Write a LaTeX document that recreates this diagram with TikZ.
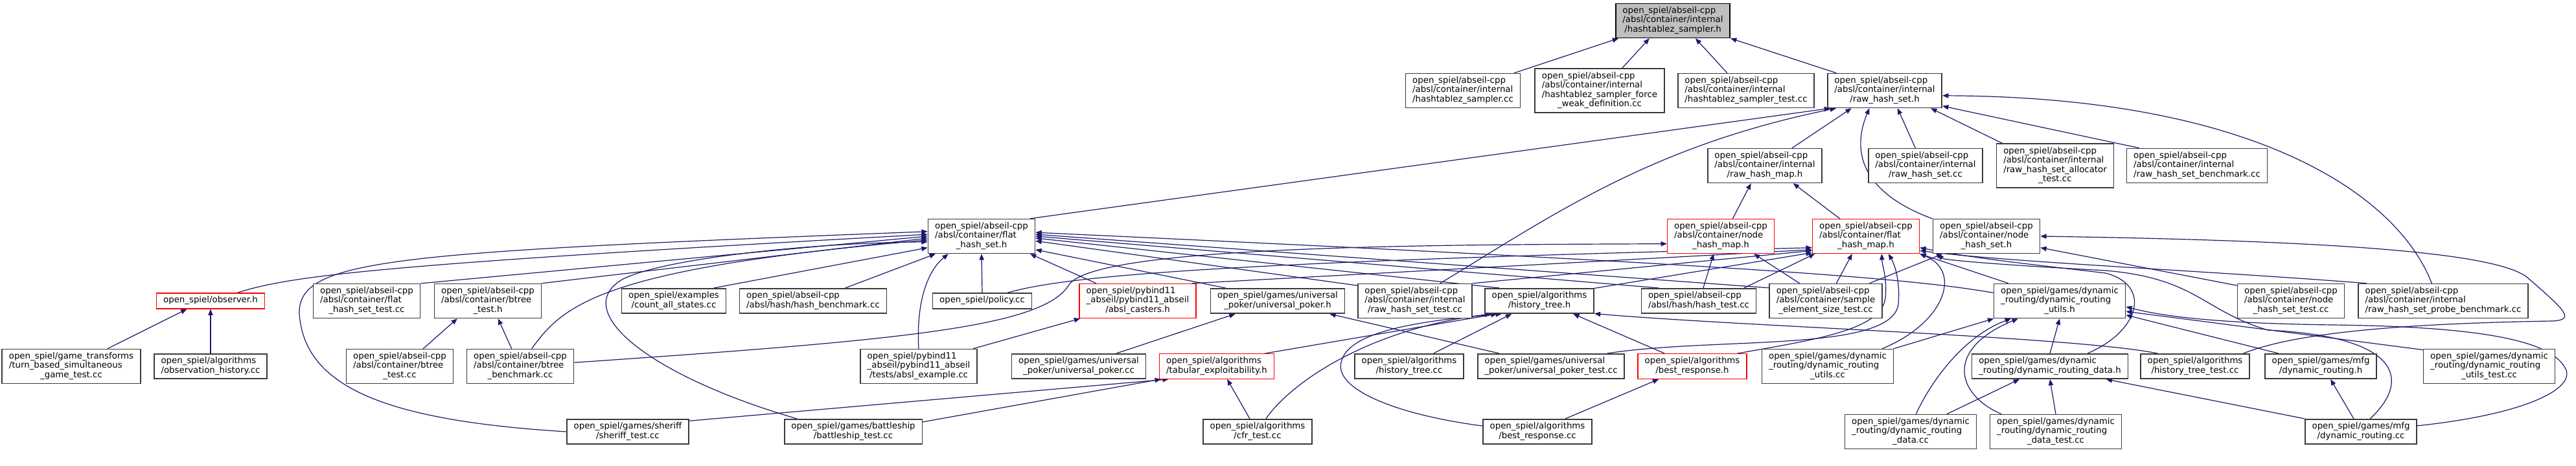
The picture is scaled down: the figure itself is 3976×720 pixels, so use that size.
\documentclass[tikz,border=0pt]{standalone}
\usepackage{fontspec}
\setmainfont{DejaVu Sans}
\usetikzlibrary{arrows.meta,backgrounds}
\definecolor{edgeblue}{HTML}{191970}
\definecolor{boxline}{HTML}{3A3A3A}
\definecolor{rootfill}{HTML}{BFBFBF}
% file label: left aligned lines, last line centred
\newcommand{\fn}[2]{\begin{tabular}{@{}l@{}}#1\\\multicolumn{1}{@{}c@{}}{#2}\end{tabular}}
\newcommand{\fa}[1]{\begin{tabular}{@{}c@{}}#1\end{tabular}}
\tikzset{
  file/.style={draw=boxline, line width=1.2pt, fill=white, inner xsep=8pt, inner ysep=3.5pt,
    font=\fontsize{10}{10.9}\selectfont},
  redfile/.style={file, draw=red, line width=1pt},
  rootfile/.style={file, draw=black, fill=rootfill},
  incl/.style={-{Triangle[length=7pt,width=5.5pt]}, draw=edgeblue, line width=0.9pt},
}
\begin{document}
\begin{tikzpicture}[x=0.75pt,y=-0.75pt]
\useasboundingbox (0,0) rectangle (3976,720);
% row 0 and 1
\node[rootfile] (hz) at (2582,32) {\fn{open\_spiel/abseil-cpp\\/absl/container/internal}{/hashtablez\_sampler.h}};
\node[file] (hzcc) at (2258,140) {\fn{open\_spiel/abseil-cpp\\/absl/container/internal}{/hashtablez\_sampler.cc}};
\node[file] (hzweak) at (2469,140) {\fn{open\_spiel/abseil-cpp\\/absl/container/internal\\/hashtablez\_sampler\_force}{\_weak\_definition.cc}};
\node[file] (hztest) at (2695,140) {\fn{open\_spiel/abseil-cpp\\/absl/container/internal}{/hashtablez\_sampler\_test.cc}};
\node[file] (rhs) at (2909,140) {\fn{open\_spiel/abseil-cpp\\/absl/container/internal}{/raw\_hash\_set.h}};
% row 2
\node[file] (rhm) at (2724,256) {\fn{open\_spiel/abseil-cpp\\/absl/container/internal}{/raw\_hash\_map.h}};
\node[file] (rhscc) at (2972,256) {\fn{open\_spiel/abseil-cpp\\/absl/container/internal}{/raw\_hash\_set.cc}};
\node[file] (rhsalloc) at (3172,256) {\fn{open\_spiel/abseil-cpp\\/absl/container/internal\\/raw\_hash\_set\_allocator}{\_test.cc}};
\node[file] (rhsbench) at (3391,256) {\fn{open\_spiel/abseil-cpp\\/absl/container/internal}{/raw\_hash\_set\_benchmark.cc}};
% row 3
\node[file] (fhs) at (1515,365) {\fn{open\_spiel/abseil-cpp\\/absl/container/flat}{\_hash\_set.h}};
\node[redfile] (nhm) at (2656,365) {\fn{open\_spiel/abseil-cpp\\/absl/container/node}{\_hash\_map.h}};
\node[redfile] (fhm) at (2880,365) {\fn{open\_spiel/abseil-cpp\\/absl/container/flat}{\_hash\_map.h}};
\node[file] (nhs) at (3066,365) {\fn{open\_spiel/abseil-cpp\\/absl/container/node}{\_hash\_set.h}};
% row 4
\node[redfile] (obs) at (325,465) {\fa{open\_spiel/observer.h}};
\node[file] (fhstest) at (566,465) {\fn{open\_spiel/abseil-cpp\\/absl/container/flat}{\_hash\_set\_test.cc}};
\node[file] (bth) at (753,465) {\fn{open\_spiel/abseil-cpp\\/absl/container/btree}{\_test.h}};
\node[file] (cas) at (1040,465) {\fn{open\_spiel/examples}{/count\_all\_states.cc}};
\node[file] (hbench) at (1255,465) {\fn{open\_spiel/abseil-cpp}{/absl/hash/hash\_benchmark.cc}};
\node[file] (pol) at (1516,465) {\fa{open\_spiel/policy.cc}};
\node[redfile] (cast) at (1756,465) {\fn{open\_spiel/pybind11\\\_abseil/pybind11\_abseil}{/absl\_casters.h}};
\node[file] (uph) at (1972,465) {\fn{open\_spiel/games/universal}{\_poker/universal\_poker.h}};
\node[file] (rhstest) at (2184,465) {\fn{open\_spiel/abseil-cpp\\/absl/container/internal}{/raw\_hash\_set\_test.cc}};
\node[file] (hth) at (2376,465) {\fn{open\_spiel/algorithms}{/history\_tree.h}};
\node[file] (htest) at (2622,465) {\fn{open\_spiel/abseil-cpp}{/absl/hash/hash\_test.cc}};
\node[file] (sest) at (2818,465) {\fn{open\_spiel/abseil-cpp\\/absl/container/sample}{\_element\_size\_test.cc}};
\node[file] (dru) at (3179,465) {\fn{open\_spiel/games/dynamic\\\_routing/dynamic\_routing}{\_utils.h}};
\node[file] (nhstest) at (3536,465) {\fn{open\_spiel/abseil-cpp\\/absl/container/node}{\_hash\_set\_test.cc}};
\node[file] (probe) at (3771,465) {\fn{open\_spiel/abseil-cpp\\/absl/container/internal}{/raw\_hash\_set\_probe\_benchmark.cc}};
% row 5
\node[file] (tbs) at (110,566) {\fn{open\_spiel/game\_transforms\\/turn\_based\_simultaneous}{\_game\_test.cc}};
\node[file] (obsh) at (325,566) {\fn{open\_spiel/algorithms}{/observation\_history.cc}};
\node[file] (btcc) at (617,566) {\fn{open\_spiel/abseil-cpp\\/absl/container/btree}{\_test.cc}};
\node[file] (btbench) at (803,566) {\fn{open\_spiel/abseil-cpp\\/absl/container/btree}{\_benchmark.cc}};
\node[file] (absex) at (1418,566) {\fn{open\_spiel/pybind11\\\_abseil/pybind11\_abseil}{/tests/absl\_example.cc}};
\node[file] (upcc) at (1665,566) {\fn{open\_spiel/games/universal}{\_poker/universal\_poker.cc}};
\node[redfile] (tex) at (1878,566) {\fn{open\_spiel/algorithms}{/tabular\_exploitability.h}};
\node[file] (htcc) at (2175,566) {\fn{open\_spiel/algorithms}{/history\_tree.cc}};
\node[file] (uptest) at (2394,566) {\fn{open\_spiel/games/universal}{\_poker/universal\_poker\_test.cc}};
\node[redfile] (brh) at (2612,566) {\fn{open\_spiel/algorithms}{/best\_response.h}};
\node[file] (drucc) at (2821,566) {\fn{open\_spiel/games/dynamic\\\_routing/dynamic\_routing}{\_utils.cc}};
\node[file] (drd) at (3164,566) {\fn{open\_spiel/games/dynamic}{\_routing/dynamic\_routing\_data.h}};
\node[file] (httest) at (3388,566) {\fn{open\_spiel/algorithms}{/history\_tree\_test.cc}};
\node[file] (mfgh) at (3582,566) {\fn{open\_spiel/games/mfg}{/dynamic\_routing.h}};
\node[file] (drutest) at (3842,566) {\fn{open\_spiel/games/dynamic\\\_routing/dynamic\_routing}{\_utils\_test.cc}};
% row 6
\node[file] (sher) at (969,667) {\fn{open\_spiel/games/sheriff}{/sheriff\_test.cc}};
\node[file] (bship) at (1317,667) {\fn{open\_spiel/games/battleship}{/battleship\_test.cc}};
\node[file] (cfr) at (1941,667) {\fn{open\_spiel/algorithms}{/cfr\_test.cc}};
\node[file] (brcc) at (2373,667) {\fn{open\_spiel/algorithms}{/best\_response.cc}};
\node[file] (drdcc) at (2949,667) {\fn{open\_spiel/games/dynamic\\\_routing/dynamic\_routing}{\_data.cc}};
\node[file] (drdtest) at (3173,667) {\fn{open\_spiel/games/dynamic\\\_routing/dynamic\_routing}{\_data\_test.cc}};
\node[file] (mfgcc) at (3644,667) {\fn{open\_spiel/games/mfg}{/dynamic\_routing.cc}};

\begin{pgfonlayer}{background}
\fill[white] (0,0) rectangle (3976,720);
% hashtablez_sampler.h and raw_hash_set.h
\draw[incl] (hzcc.19) -- (hz.-162);
\draw[incl] (hzweak.45) -- (hz.-143);
\draw[incl] (hztest.137) -- (hz.-38);
\draw[incl] (rhs.160) -- (hz.south east);
\draw[incl] (fhs.20) -- (rhs.-162);
\draw[incl] (rhstest.35) .. controls (2400,330) and (2550,225) .. (rhs.-160);
\draw[incl] (rhm.33) -- (rhs.-152);
\draw[incl] (nhs.162) .. controls (2880,300) and (2855,240) .. (rhs.-131);
\draw[incl] (rhscc.120) -- (rhs.-54);
\draw[incl] (rhsalloc.157) -- (rhs.-21);
\draw[incl] (rhsbench.163) -- (rhs.-15);
\draw[incl] (probe.123) .. controls (3700,300) and (3480,150) .. (rhs.-5);
\draw[incl] (nhm.56) -- (rhm.-128);
\draw[incl] (fhm.146) -- (rhm.-32);
% flat_hash_set.h
\draw[incl] (obs.17) .. controls (450,425) and (600,408) .. (fhs.178);
\draw[incl] (sher.west) .. controls (600,650) and (470,600) .. (462,485) .. controls (460,400) and (600,390) .. (fhs.175);
\draw[incl] (fhstest.18) -- (fhs.180);
\draw[incl] (bth.north east) -- (fhs.-178);
\draw[incl] (btbench.57) .. controls (870,470) and (930,415) .. (fhs.-176);
\draw[incl] (bship.167) .. controls (1000,580) and (880,480) .. (960,432) .. controls (1020,400) and (1250,375) .. (fhs.-174);
\draw[incl] (cas.18) -- (fhs.-168);
\draw[incl] (hbench.22) -- (fhs.-159);
\draw[incl] (absex.north) .. controls (1414,470) and (1430,420) .. (fhs.-152);
\draw[incl] (pol.north) -- (fhs.south);
\draw[incl] (cast.157) -- (fhs.-20);
\draw[incl] (uph.166) -- (fhs.-14);
\draw[incl] (rhstest.165) -- (fhs.-5);
\draw[incl] (hth.162) -- (fhs.-2);
\draw[incl] (htest.162) -- (fhs.0);
\draw[incl] (sest.167) -- (fhs.2);
\draw[incl] (dru.173) .. controls (2950,430) and (2700,410) .. (fhs.4);
% node_hash_map.h, flat_hash_map.h, node_hash_set.h
\draw[incl] (btbench.4) .. controls (1400,525) and (1610,505) .. (1650,440) .. controls (1690,380) and (2200,378) .. (nhm.-172);
\draw[incl] (htest.71) -- (nhm.-112);
\draw[incl] (sest.146) -- (nhm.-28);
\draw[incl] (cast.18) -- (fhm.-166);
\draw[incl] (pol.18) .. controls (1650,425) and (1900,405) .. (fhm.-168);
\draw[incl] (rhstest.17) -- (fhm.-165);
\draw[incl] (hth.13) -- (fhm.-163);
\draw[incl] (htest.16) -- (fhm.-161);
\draw[incl] (sest.59) -- (fhm.-128);
\draw[incl] (brh.16) .. controls (2800,525) and (2905,510) .. (2910,460) .. controls (2913,430) and (2905,410) .. (fhm.-48);
\draw[incl] (uptest.13) .. controls (2650,520) and (2920,545) .. (2930,470) .. controls (2933,435) and (2925,410) .. (fhm.-38);
\draw[incl] (drucc.18) .. controls (3000,500) and (3030,420) .. (fhm.-18);
\draw[incl] (dru.161) -- (fhm.south east);
\draw[incl] (probe.167) .. controls (3400,418) and (3100,405) .. (fhm.-15);
\draw[incl] (drd.19) .. controls (3305,510) and (3320,440) .. (3250,422) .. controls (3150,410) and (3050,400) .. (fhm.-12);
\draw[incl] (mfgcc.55) .. controls (3720,590) and (3710,520) .. (3500,510) .. controls (3400,480) and (3390,430) .. (3250,418) .. controls (3100,410) and (3000,402) .. (nhs.-160);
\draw[incl] (sest.22) -- (nhs.-158);
\draw[incl] (nhstest.164) -- (nhs.-12);
\draw[incl] (httest.15) .. controls (3540,515) and (3700,500) .. (3940,496) .. controls (3975,494) and (3960,480) .. (3900,428) .. controls (3850,390) and (3600,372) .. (nhs.east);
% lower headers
\draw[incl] (tbs.26) -- (obs.-161);
\draw[incl] (obsh.north) -- (obs.south);
\draw[incl] (btcc.37) -- (bth.-150);
\draw[incl] (btbench.116) -- (bth.-60);
\draw[incl] (absex.18) -- (cast.-163);
\draw[incl] (upcc.19) -- (uph.-163);
\draw[incl] (uptest.166) -- (uph.-14);
\draw[incl] (tex.15) -- (hth.-163);
\draw[incl] (cfr.57) .. controls (1985,600) and (2100,510) .. (hth.-165);
\draw[incl] (brcc.174) .. controls (2150,640) and (2060,600) .. (2070,560) .. controls (2080,510) and (2200,495) .. (hth.-161);
\draw[incl] (htcc.28) -- (hth.-155);
\draw[incl] (brh.155) -- (hth.-21);
\draw[incl] (httest.161) .. controls (3200,520) and (2700,505) .. (hth.-13);
\draw[incl] (cfr.121) -- (tex.-51);
\draw[incl] (sher.10) -- (tex.-165);
\draw[incl] (bship.8) -- (tex.-167);
\draw[incl] (brcc.25) -- (brh.-159);
% dynamic routing
\draw[incl] (drucc.15) -- (dru.-165);
\draw[incl] (drd.north) -- (dru.south);
\draw[incl] (drdcc.73) .. controls (2980,590) and (3030,520) .. (dru.-160);
\draw[incl] (drdtest.162) .. controls (3020,610) and (3000,540) .. (dru.-157);
\draw[incl] (mfgh.163) -- (dru.-12);
\draw[incl] (drutest.166) -- (dru.-9);
\draw[incl] (mfgcc.6) .. controls (3900,640) and (3975,600) .. (3960,570) .. controls (3940,530) and (3850,505) .. (3600,502) .. controls (3450,500) and (3350,492) .. (dru.-5);
\draw[incl] (drdcc.26) -- (drd.-157);
\draw[incl] (drdtest.north) -- (drd.south);
\draw[incl] (mfgcc.167) -- (drd.-13);
\draw[incl] (mfgcc.119) -- (mfgh.-53);
\end{pgfonlayer}
\end{tikzpicture}
\end{document}
